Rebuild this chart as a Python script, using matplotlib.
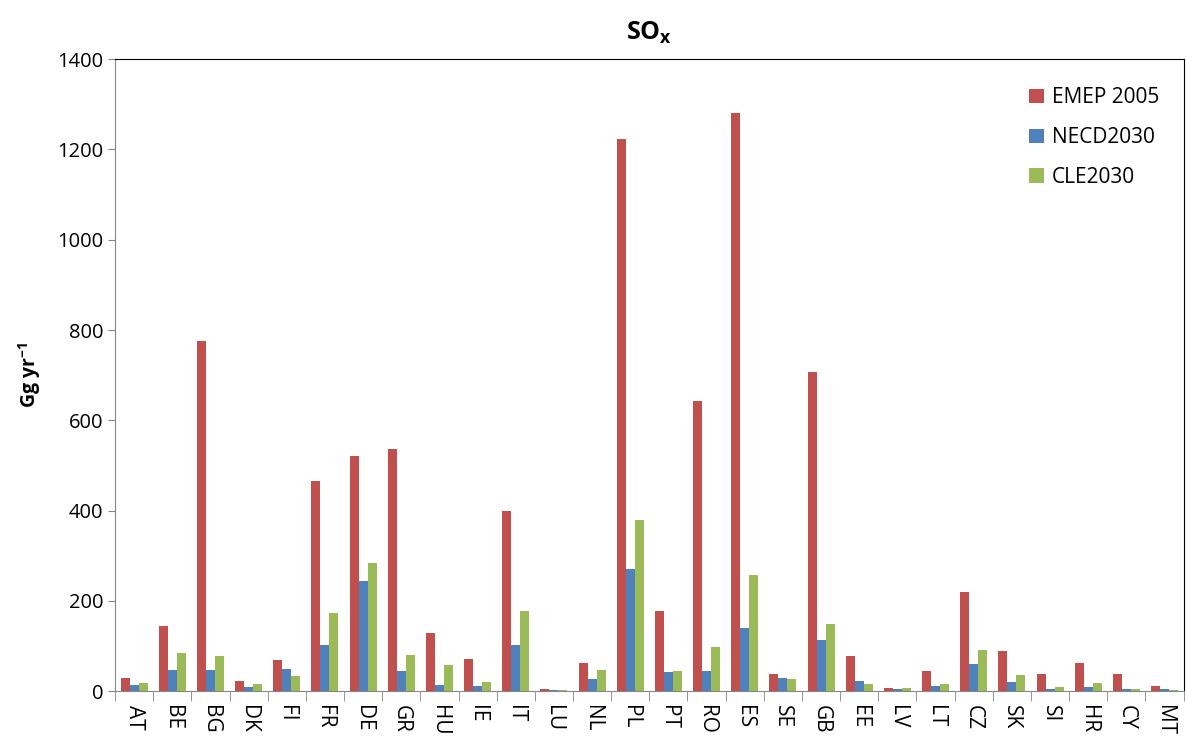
import numpy as np
import matplotlib.pyplot as plt

plt.rcParams['font.family'] = ['Open Sans', 'DejaVu Sans']

# countries and emissions (Gg/yr)
countries = ['AT', 'BE', 'BG', 'DK', 'FI', 'FR', 'DE', 'GR', 'HU', 'IE', 'IT', 'LU', 'NL', 'PL',
             'PT', 'RO', 'ES', 'SE', 'GB', 'EE', 'LV', 'LT', 'CZ', 'SK', 'SI', 'HR', 'CY', 'MT']
emep2005 = [29, 145, 776, 23, 69, 466, 520, 537, 129, 72, 400, 4, 63, 1223,
            178, 643, 1280, 37, 706, 77, 7, 44, 219, 88, 39, 63, 39, 12]
necd2030 = [14, 47, 47, 9, 50, 102, 243, 44, 14, 12, 102, 3, 26, 270,
            42, 44, 140, 29, 113, 23, 4, 12, 61, 20, 4, 9, 4, 4]
cle2030 = [17, 85, 77, 15, 34, 173, 284, 80, 58, 20, 178, 3, 47, 379,
           44, 97, 257, 26, 148, 15, 7, 15, 91, 36, 9, 18, 4, 3]

fig, ax = plt.subplots(figsize=(11.86, 7.4), dpi=100)
fig.subplots_adjust(left=0.097, right=0.998, top=0.92, bottom=0.066)

x = np.arange(len(countries))
w = 0.235
ax.bar(x - w, emep2005, w, color='#C0504D', label='EMEP 2005')
ax.bar(x, necd2030, w, color='#4F81BD', label='NECD2030')
ax.bar(x + w, cle2030, w, color='#9BBB59', label='CLE2030')

ax.set_xlim(-0.5, len(countries) - 0.5)
ax.set_ylim(0, 1400)
ax.set_yticks(range(0, 1401, 200))
ax.tick_params(axis='y', labelsize=14.5, length=5, color='#868686')

# category labels centred, ticks between categories
ax.set_xticks(x)
ax.set_xticklabels(countries, rotation=-90, fontsize=15)
ax.tick_params(axis='x', length=0, pad=10)
ax.set_xticks(np.arange(-0.5, len(countries), 1), minor=True)
ax.tick_params(axis='x', which='minor', length=7, color='#868686')

for s in ['left', 'bottom']:
    ax.spines[s].set_color('#868686')
for s in ['top', 'right']:
    ax.spines[s].set_color('black')
    ax.spines[s].set_linewidth(0.8)

ax.set_title('SO$_\\mathregular{x}$', fontsize=18, fontweight='bold', pad=14)
ax.set_ylabel('Gg yr$^\\mathregular{-1}$', fontsize=14, fontweight='bold', labelpad=10)

ax.legend(loc='upper right', frameon=False, fontsize=15, labelspacing=0.9,
          handlelength=0.7, handleheight=0.7, handletextpad=0.4,
          bbox_to_anchor=(0.995, 0.985))

plt.savefig('out.png')
